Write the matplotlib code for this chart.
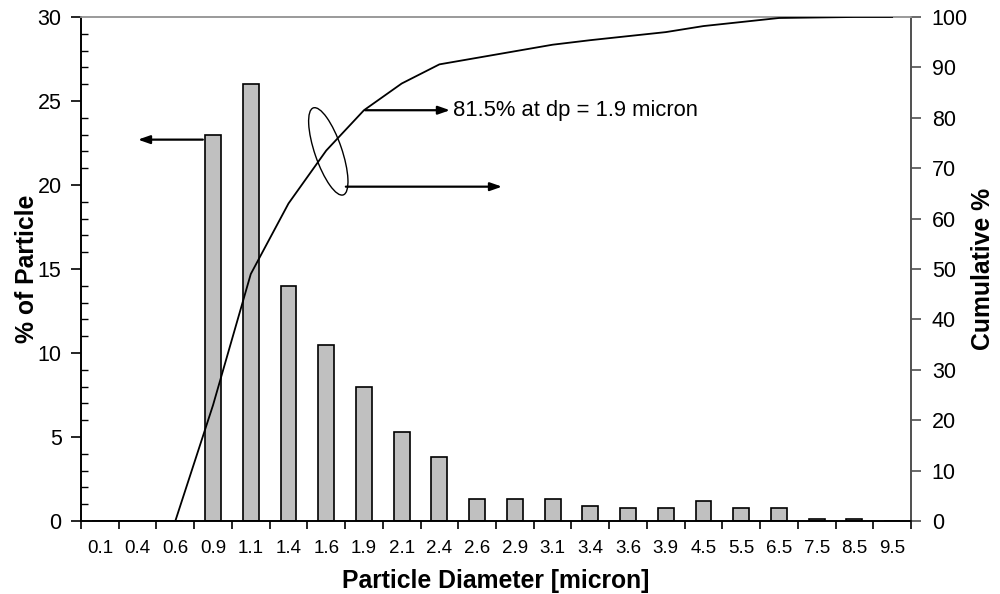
import matplotlib
matplotlib.use("Agg")
import matplotlib.pyplot as plt
from matplotlib.patches import Ellipse
from matplotlib.transforms import IdentityTransform
import numpy as np

plt.rcParams['font.family'] = ['Liberation Sans', 'DejaVu Sans']

# Particle size classes [micron]
diameters = ["0.1", "0.4", "0.6", "0.9", "1.1", "1.4", "1.6", "1.9", "2.1", "2.4", "2.6",
             "2.9", "3.1", "3.4", "3.6", "3.9", "4.5", "5.5", "6.5", "7.5", "8.5", "9.5"]
# Share of particles in each class [%]
particle_pct = [0, 0, 0, 23, 26, 14, 10.5, 8, 5.3, 3.8, 1.3,
                1.3, 1.3, 0.9, 0.8, 0.8, 1.2, 0.8, 0.8, 0.1, 0.1, 0]
# Cumulative share [%]
cumulative_pct = [0, 0, 0, 23, 49, 63, 73.5, 81.5, 86.8, 90.6, 91.9,
                  93.2, 94.5, 95.4, 96.2, 97.0, 98.2, 99.0, 99.8, 99.9, 100, 100]

x = np.arange(len(diameters))

fig = plt.figure(figsize=(10, 5.94), dpi=100)
ax = fig.add_axes([0.081, 0.1229, 0.830, 0.8485])
ax2 = ax.twinx()

ax.bar(x, particle_pct, width=0.42, color="#c0c0c0", edgecolor="black", linewidth=1.2, zorder=2)
ax2.plot(x, cumulative_pct, color="black", linewidth=1.3, zorder=3)

ax.set_xlim(-0.5, len(diameters) - 0.5)
ax.set_ylim(0, 30)
ax2.set_ylim(0, 100)

# x axis: labels at class centres, tick marks at class boundaries
ax.set_xticks(x)
ax.set_xticklabels(diameters, fontsize=13.5)
ax.set_xticks(np.arange(-0.5, len(diameters)), minor=True)
ax.tick_params(axis="x", which="major", length=0, pad=14)
ax.tick_params(axis="x", which="minor", length=6, width=1.2, direction="out")

# left axis
ax.set_yticks(np.arange(0, 31, 5))
ax.set_yticks(np.arange(0, 31, 1), minor=True)
ax.tick_params(axis="y", which="major", length=7, width=1.2, direction="out", labelsize=15.5, pad=7)
ax.tick_params(axis="y", which="minor", length=5, width=1.0, direction="in")

# right axis
ax2.set_yticks(np.arange(0, 101, 10))
ax2.tick_params(axis="y", which="major", length=7, width=1.2, direction="out", labelsize=15.5,
                color="#505050", pad=8)

for a in (ax, ax2):
    a.spines["left"].set_color("black")
    a.spines["bottom"].set_color("black")
    a.spines["top"].set_color("#9a9a9a")
    a.spines["right"].set_color("#505050")
    for s in a.spines.values():
        s.set_linewidth(1.2)

ax.set_xlabel("Particle Diameter [micron]", fontsize=17.8, fontweight="bold")
ax.set_ylabel("% of Particle", fontsize=17.8, fontweight="bold")
ax2.set_ylabel("Cumulative %", fontsize=17.8, fontweight="bold")
ax.xaxis.set_label_coords(0.5, -0.095)
ax.yaxis.set_label_coords(-0.05, 0.5)
ax2.yaxis.set_label_coords(1.072, 0.5)

arrow = dict(arrowstyle="-|>,head_length=1.0,head_width=0.35", color="black", lw=1.6,
             mutation_scale=7, shrinkA=0, shrinkB=0)

# arrow pointing to the left axis
ax.annotate("", xy=(1.01, 22.7), xytext=(2.73, 22.7), arrowprops=arrow)
# arrow pointing to the right axis
ax.annotate("", xy=(10.66, 19.9), xytext=(6.52, 19.9), arrowprops=arrow)
# marker for 1.9 micron
ax2.annotate("", xy=(9.28, 81.5), xytext=(7.03, 81.5), arrowprops=arrow)
ax2.text(9.35, 81.5, "81.5% at dp = 1.9 micron", fontsize=15.8, va="center", ha="left")

# ellipse grouping the curve
cx, cy = ax.transData.transform((6.055, 22.0))
ell = Ellipse((cx, cy), width=27, height=92, angle=19, fill=False, edgecolor="black",
              linewidth=1.0, transform=IdentityTransform(), zorder=5)
fig.patches.append(ell)
ell.set_figure(fig)

fig.savefig("out.png", dpi=100)
